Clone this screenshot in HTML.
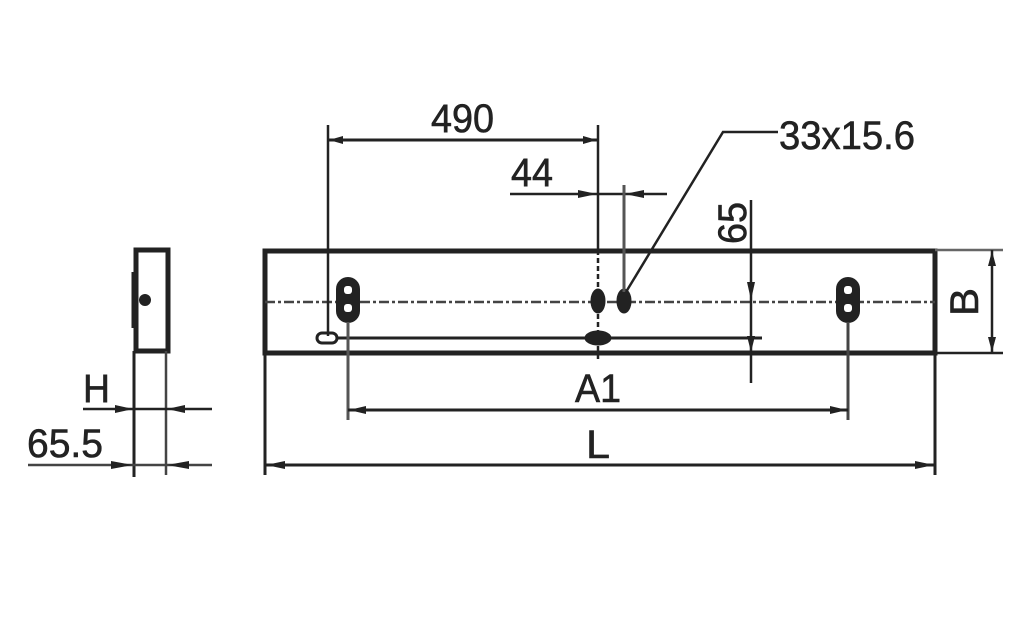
<!DOCTYPE html>
<html><head><meta charset="utf-8"><style>html,body{margin:0;padding:0;background:#fff}svg{display:block}text{font-family:"Liberation Sans",sans-serif;fill:#222;stroke:#222;stroke-width:0.6}</style></head>
<body>
<svg width="1024" height="643" viewBox="0 0 1024 643" xmlns="http://www.w3.org/2000/svg">
<g stroke="#222" fill="none">
<rect x="265" y="251" width="670" height="102" stroke-width="5"/>
<line x1="265" y1="302" x2="935" y2="302" stroke-width="2.5" stroke-dasharray="10,3,3,3" stroke="#444"/>
<line x1="320" y1="338" x2="762" y2="338" stroke-width="3"/>
<rect x="337" y="278" width="22" height="44" rx="11" fill="#222" stroke-width="2"/>
<rect x="344" y="286" width="8" height="8" rx="3" fill="#fff" stroke="none"/>
<rect x="344" y="304" width="8" height="8" rx="3" fill="#fff" stroke="none"/>
<rect x="837" y="278" width="22" height="44" rx="11" fill="#222" stroke-width="2"/>
<rect x="844" y="286" width="8" height="8" rx="3" fill="#fff" stroke="none"/>
<rect x="844" y="304" width="8" height="8" rx="3" fill="#fff" stroke="none"/>
<ellipse cx="598" cy="301" rx="7" ry="12" fill="#222"/>
<ellipse cx="624" cy="301" rx="7" ry="12" fill="#222"/>
<ellipse cx="598" cy="338" rx="13" ry="7" fill="#222"/>
<rect x="317" y="333" width="20" height="10" rx="5" stroke-width="3" fill="#fff"/>
<line x1="328" y1="125" x2="328" y2="336" stroke-width="2.5"/>
<line x1="598" y1="125" x2="598" y2="250" stroke-width="2.5"/>
<line x1="598" y1="250" x2="598" y2="360" stroke-width="2.5" stroke-dasharray="5,3"/>
<line x1="328" y1="140" x2="598" y2="140" stroke-width="3"/>
<line x1="510" y1="194" x2="667" y2="194" stroke-width="2.5"/>
<line x1="624" y1="185" x2="624" y2="292" stroke-width="3" stroke="#555"/>
<polyline points="626,292 723,132 778,132" stroke-width="2.5"/>
<line x1="751" y1="200" x2="751" y2="383" stroke-width="2.5"/>
<line x1="935" y1="250" x2="1003" y2="250" stroke-width="2.5" stroke="#666"/>
<line x1="935" y1="353" x2="1003" y2="353" stroke-width="2.5"/>
<line x1="992" y1="250" x2="992" y2="353" stroke-width="2.5"/>
<line x1="348" y1="322" x2="348" y2="420" stroke-width="3" stroke="#555"/>
<line x1="848" y1="322" x2="848" y2="420" stroke-width="3" stroke="#444"/>
<line x1="348" y1="410" x2="848" y2="410" stroke-width="3"/>
<line x1="265" y1="353" x2="265" y2="475" stroke-width="3"/>
<line x1="935" y1="353" x2="935" y2="475" stroke-width="3"/>
<line x1="265" y1="465" x2="935" y2="465" stroke-width="3"/>
<rect x="136" y="250" width="32" height="101" stroke-width="5"/>
<line x1="133" y1="272" x2="133" y2="328" stroke-width="3"/>
<line x1="134" y1="351" x2="134" y2="477" stroke-width="3"/>
<line x1="166" y1="351" x2="166" y2="475" stroke-width="2.5" stroke="#444"/>
<line x1="83" y1="409" x2="212" y2="409" stroke-width="2.5"/>
<line x1="28" y1="465" x2="212" y2="465" stroke-width="2.5" stroke="#444"/>
</g>
<circle cx="145" cy="300" r="6" fill="#222"/>
<g fill="#222">
<polygon points="329,140 343,136 343,144"/>
<polygon points="597,140 583,136 583,144"/>
<polygon points="597,194 578,190 578,198"/>
<polygon points="625,194 644,190 644,198"/>
<polygon points="751,300 747,282 755,282"/>
<polygon points="751,352 747,336 755,336"/>
<polygon points="992,251 988,266 996,266"/>
<polygon points="992,352 988,337 996,337"/>
<polygon points="349,410 366,406 366,414"/>
<polygon points="847,410 830,406 830,414"/>
<polygon points="266,465 285,461 285,469"/>
<polygon points="934,465 915,461 915,469"/>
<polygon points="133,409 115,405 115,413"/>
<polygon points="167,409 185,405 185,413"/>
<polygon points="133,465 111,461 111,469"/>
<polygon points="167,465 189,461 189,469"/>
</g>
<g font-size="40">
<text x="431" y="132" textLength="63" lengthAdjust="spacingAndGlyphs">490</text>
<text x="511" y="186" textLength="42" lengthAdjust="spacingAndGlyphs">44</text>
<text x="779" y="149" textLength="136" lengthAdjust="spacingAndGlyphs">33x15.6</text>
<text x="575" y="402" textLength="46" lengthAdjust="spacingAndGlyphs">A1</text>
<text x="586" y="458" textLength="24" lengthAdjust="spacingAndGlyphs">L</text>
<text x="83" y="402" textLength="27" lengthAdjust="spacingAndGlyphs">H</text>
<text x="27" y="457" textLength="76" lengthAdjust="spacingAndGlyphs">65.5</text>
<text transform="translate(746,244) rotate(-90)" textLength="42" lengthAdjust="spacingAndGlyphs">65</text>
<text transform="translate(978,316) rotate(-90)" textLength="28" lengthAdjust="spacingAndGlyphs">B</text>
</g>
</svg>
</body></html>
